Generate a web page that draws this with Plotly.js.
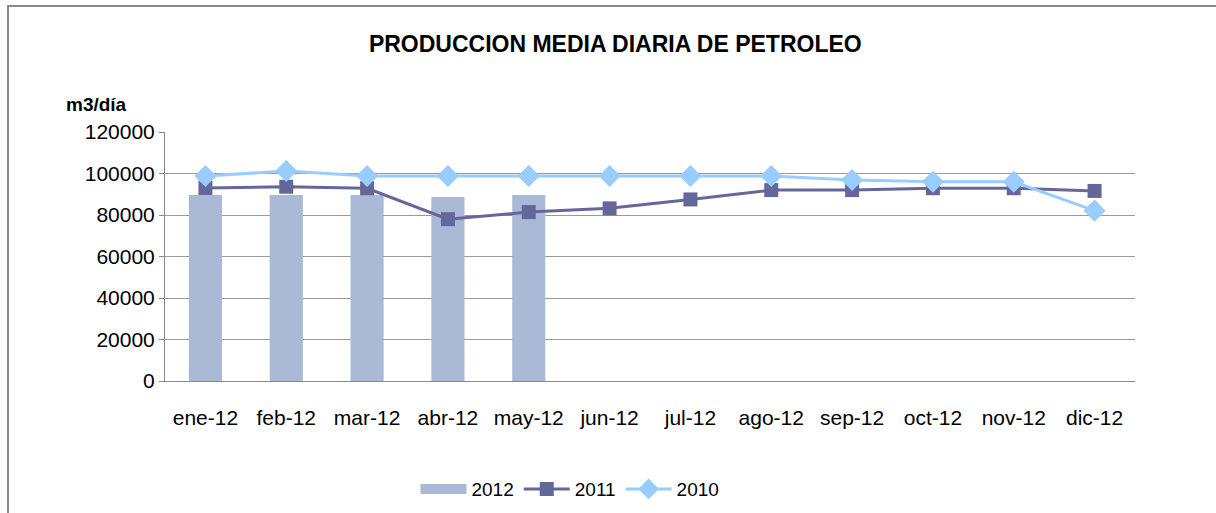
<!DOCTYPE html>
<html>
<head>
<meta charset="utf-8">
<script src="https://cdn.plot.ly/plotly-3.0.1.min.js"></script>
<style>
  html, body { margin: 0; padding: 0; background: #fff; }
  #wrap { position: relative; width: 1216px; height: 513px; overflow: hidden; }
  #chart { position: absolute; left: 0; top: 0; width: 1216px; height: 513px; }
  #frame { position: absolute; left: 7px; top: 5px; width: 1216px; height: 520px;
           border-top: 2px solid #8a8a8a; border-left: 2px solid #8a8a8a; pointer-events: none; }
</style>
</head>
<body>
<div id="wrap">
  <div id="chart"></div>
  <div id="frame"></div>
</div>
<script>
const months = ["ene-12","feb-12","mar-12","abr-12","may-12","jun-12","jul-12","ago-12","sep-12","oct-12","nov-12","dic-12"];
const prod2012 = [89600, 89600, 89600, 88700, 89600, null, null, null, null, null, null, null];
const prod2011 = [93000, 93600, 92900, 78000, 81400, 83200, 87500, 92000, 92000, 92900, 92900, 91600];
const prod2010 = [98800, 101200, 98800, 98800, 98800, 98800, 98800, 98800, 96900, 96000, 96000, 82100];
const yTicks = [0, 20000, 40000, 60000, 80000, 100000, 120000];

const font = "Liberation Sans, Arial, sans-serif";
const barColor = "#AAB9D6";

const traces = [
  {
    type: "bar", name: "2012", x: months, y: prod2012,
    marker: { color: barColor }, showlegend: false, legendgroup: "2012"
  },
  {
    // legend entry for the bar series, drawn as a wide swatch like the original
    type: "scatter", mode: "lines", name: "2012", x: [months[0]], y: [null],
    line: { color: barColor, width: 10 }, legendgroup: "2012", hoverinfo: "skip"
  },
  {
    type: "scatter", mode: "lines+markers", name: "2011", x: months, y: prod2011,
    line: { color: "#65679A", width: 3 },
    marker: { symbol: "square", size: 14, color: "#65679A" }
  },
  {
    type: "scatter", mode: "lines+markers", name: "2010", x: months, y: prod2010,
    line: { color: "#99CCFF", width: 3 },
    marker: { symbol: "diamond", size: 17, color: "#99CCFF" }
  }
];

const layout = {
  width: 1216, height: 513,
  paper_bgcolor: "#ffffff", plot_bgcolor: "#ffffff",
  margin: { l: 165, r: 81, t: 132, b: 132, autoexpand: false },
  font: { family: font, size: 18, color: "#000" },
  title: {
    text: "<b>PRODUCCION MEDIA DIARIA DE PETROLEO</b>",
    font: { family: "Liberation Sans Narrow, Arial Narrow, Liberation Sans, sans-serif", size: 23, color: "#000" },
    x: 0.506, xanchor: "center", y: 0.915, yanchor: "middle"
  },
  bargap: 0.59,
  showlegend: true,
  legend: {
    orientation: "h", x: 0.4175, xanchor: "center", y: -0.434, yanchor: "middle",
    font: { family: font, size: 19, color: "#000" },
    traceorder: "normal", itemwidth: 46
  },
  xaxis: {
    type: "category", range: [-0.5, 11.5], autorange: false, automargin: false,
    showgrid: false, showline: true, linecolor: "#888", linewidth: 1,
    ticks: "", tickfont: { family: font, size: 21, color: "#000" }, ticklabelstandoff: 18,
    fixedrange: true
  },
  yaxis: {
    range: [0, 120000], autorange: false, automargin: false, tickvals: yTicks, ticktext: yTicks.map(String),
    showgrid: true, gridcolor: "#999", gridwidth: 1,
    showline: true, linecolor: "#888", linewidth: 1,
    ticks: "outside", ticklen: 5, tickcolor: "#888",
    tickfont: { family: font, size: 21, color: "#000" },
    zeroline: false, fixedrange: true
  },
  annotations: [
    {
      text: "<b>m3/día</b>", xref: "paper", yref: "paper", x: -0.104, y: 1.11,
      xanchor: "left", yanchor: "middle", showarrow: false,
      font: { family: "Liberation Sans Narrow, Arial Narrow, Liberation Sans, sans-serif", size: 19, color: "#000" }
    }
  ]
};

Plotly.newPlot("chart", traces, layout, { displayModeBar: false, staticPlot: true });
</script>
</body>
</html>
